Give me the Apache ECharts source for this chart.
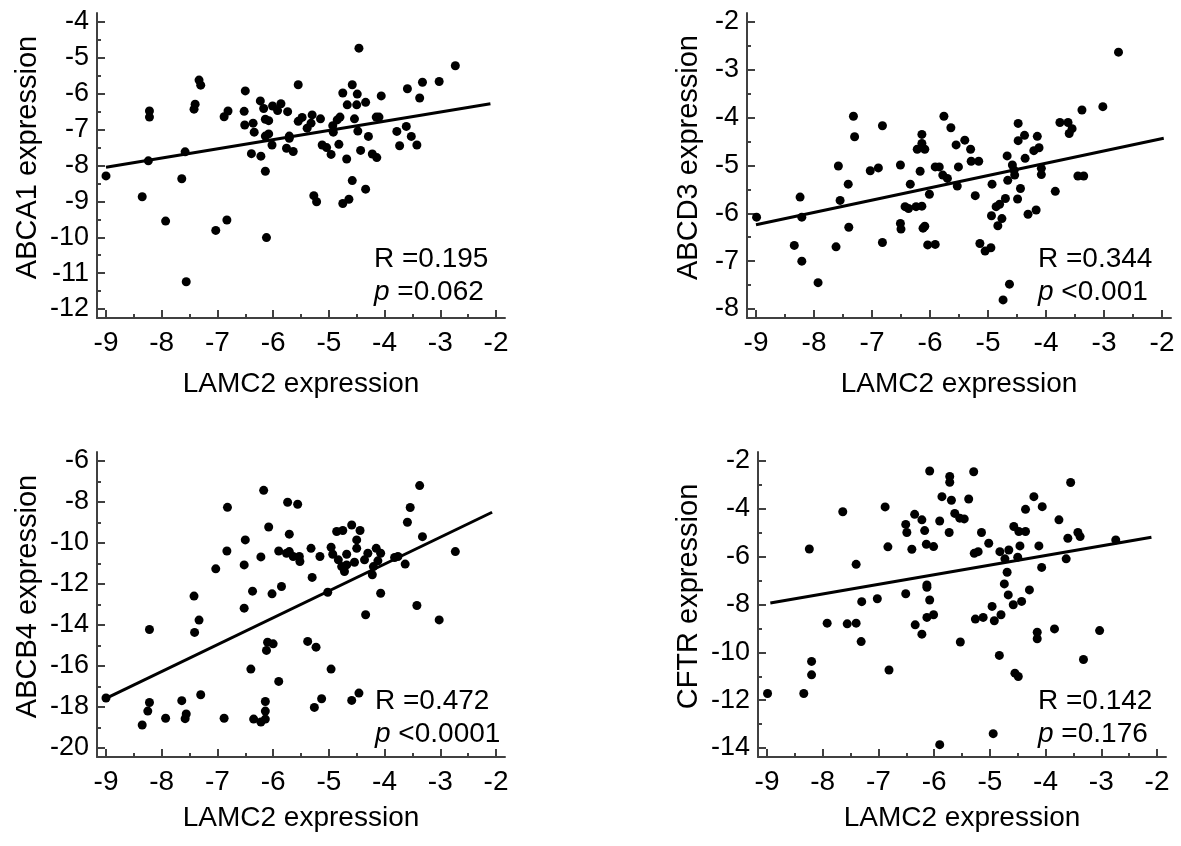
<!DOCTYPE html>
<html><head><meta charset="utf-8">
<script src="https://cdn.jsdelivr.net/npm/echarts@6/dist/echarts.min.js"></script>
<style>html,body{margin:0;padding:0;background:#fff}#c{width:1181px;height:846px}</style>
</head><body><div id="c"></div>
<script>
// ---------- data ----------
const xTicks = [-9, -8, -7, -6, -5, -4, -3, -2];
const xName = 'LAMC2 expression';

const abca1Ticks = [-12, -11, -10, -9, -8, -7, -6, -5, -4];
const abcd3Ticks = [-8, -7, -6, -5, -4, -3, -2];
const abcb4Ticks = [-20, -18, -16, -14, -12, -10, -8, -6];
const cftrTicks = [-14, -12, -10, -8, -6, -4, -2];

const yNames = ['ABCA1 expression', 'ABCD3 expression', 'ABCB4 expression', 'CFTR expression'];
const rValues = ['0.195', '0.344', '0.472', '0.142'];
const pValues = ['=0.062', '<0.001', '<0.0001', '=0.176'];

const abca1Points = [
[-9.00,-8.29],[-8.22,-6.48],[-8.22,-6.65],[-8.24,-7.87],[-8.35,-8.87],[-7.93,-9.55],[-7.56,-11.24],[-7.64,-8.37],
[-7.58,-7.62],[-7.33,-5.62],[-7.30,-5.76],[-7.40,-6.29],[-7.42,-6.43],[-7.03,-9.81],[-6.83,-9.52],[-6.88,-6.64],
[-6.81,-6.48],[-6.50,-5.92],[-6.52,-6.49],[-6.51,-6.87],[-6.36,-6.82],[-6.34,-7.07],[-6.39,-7.67],[-6.22,-7.74],
[-6.14,-8.16],[-6.12,-10.01],[-6.23,-6.20],[-6.17,-6.41],[-6.14,-6.71],[-6.08,-6.75],[-6.14,-7.18],[-6.08,-7.12],
[-6.02,-7.43],[-6.01,-6.34],[-5.92,-6.47],[-5.86,-6.28],[-5.74,-6.50],[-5.71,-7.18],[-5.71,-7.24],[-5.76,-7.52],
[-5.64,-7.61],[-5.55,-5.75],[-5.55,-6.77],
[-4.46,-4.73],[-2.73,-5.22],[-3.02,-5.66],[-3.32,-5.68],[-3.59,-5.86],[-3.37,-6.12],[-4.06,-6.06],[-4.58,-5.75],
[-4.75,-5.98],[-4.49,-6.01],[-4.67,-6.31],[-4.50,-6.31],[-4.34,-6.24],[-4.15,-6.65],[-4.10,-6.65],[-4.54,-6.70],
[-4.80,-6.65],[-4.48,-7.04],[-4.29,-7.19],[-4.43,-7.58],[-4.22,-7.68],[-4.14,-7.78],[-4.68,-7.82],[-4.82,-7.41],
[-4.96,-7.69],[-5.12,-7.43],[-5.04,-7.50],[-4.92,-7.07],[-4.93,-6.89],[-4.85,-6.73],[-5.15,-6.70],[-5.30,-6.59],
[-5.32,-6.82],[-5.39,-6.96],[-5.48,-6.66],[-3.78,-7.05],[-3.61,-6.91],[-3.52,-7.19],[-3.73,-7.45],[-3.42,-7.43],
[-4.58,-8.42],[-4.34,-8.66],[-5.27,-8.84],[-5.22,-9.01],[-4.75,-9.06],[-4.64,-8.94]
];
const abca1Fit = [[-9, -8.05], [-2.1, -6.28]];

const abcd3Points = [
[-8.99,-6.08],[-8.24,-5.66],[-8.21,-6.08],[-8.34,-6.67],[-8.21,-7.00],[-7.93,-7.45],[-7.58,-5.01],[-7.55,-5.73],
[-7.41,-5.39],[-7.40,-6.29],[-7.62,-6.70],[-7.32,-3.97],[-7.30,-4.40],[-7.03,-5.11],[-6.89,-5.05],[-6.82,-4.17],
[-6.82,-6.61],[-6.51,-4.99],[-6.34,-5.39],[-6.43,-5.86],[-6.37,-5.90],[-6.24,-5.86],[-6.14,-5.85],[-6.51,-6.21],
[-6.50,-6.33],[-6.12,-6.31],[-6.09,-6.27],[-6.14,-4.35],[-6.14,-4.54],[-6.22,-4.66],[-6.09,-4.66],[-6.17,-5.12],
[-6.01,-5.60],[-6.04,-6.66],[-5.91,-6.65],[-5.91,-5.03],[-5.84,-5.03],[-5.76,-3.97],[-5.78,-5.20],
[-2.75,-2.63],[-3.02,-3.77],[-3.38,-3.84],[-3.76,-4.10],[-3.62,-4.10],[-3.55,-4.23],[-3.60,-4.33],[-4.48,-4.12],
[-4.37,-4.37],[-4.15,-4.39],[-4.48,-4.48],[-4.12,-4.63],[-4.21,-4.69],[-4.36,-4.85],[-4.67,-4.80],[-4.58,-4.99],
[-4.54,-5.20],[-4.66,-5.31],[-4.55,-5.10],[-4.08,-5.06],[-4.08,-5.19],[-4.93,-5.39],[-4.44,-5.48],[-4.49,-5.70],
[-4.70,-5.69],[-4.80,-5.81],[-4.86,-5.86],[-4.94,-6.05],[-4.76,-6.11],[-4.83,-6.26],[-4.31,-6.02],[-4.17,-5.93],
[-3.84,-5.54],[-3.45,-5.22],[-3.35,-5.22],[-5.14,-6.63],[-5.05,-6.79],[-4.95,-6.72],[-4.63,-7.48],[-4.74,-7.81],
[-5.22,-5.63],[-5.53,-5.43],[-5.51,-5.03],[-5.29,-4.91],[-5.16,-4.91],[-5.55,-4.57],[-5.40,-4.47],[-5.30,-4.66],
[-5.64,-4.21],[-5.70,-5.27]
];
const abcd3Fit = [[-9, -6.24], [-1.97, -4.43]];

const abcb4Points = [
[-9.00,-17.56],[-8.22,-14.22],[-8.22,-17.78],[-8.25,-18.20],[-8.35,-18.88],[-7.93,-18.55],[-7.64,-17.69],[-7.56,-18.34],
[-7.58,-18.57],[-7.30,-17.40],[-7.42,-12.59],[-7.33,-13.76],[-7.41,-14.36],[-7.03,-11.26],[-6.83,-10.39],[-6.82,-8.26],
[-6.88,-18.55],[-6.50,-9.85],[-6.52,-11.07],[-6.52,-13.18],[-6.37,-12.35],[-6.40,-16.15],[-6.22,-10.68],[-6.17,-7.43],
[-6.08,-9.22],[-6.02,-12.48],[-5.85,-12.12],[-5.90,-10.39],[-5.90,-16.75],[-6.12,-15.24],[-6.10,-14.84],[-6.00,-14.92],
[-6.14,-17.73],[-6.14,-18.20],[-6.14,-18.59],[-6.22,-18.73],[-6.35,-18.59],[-5.74,-8.01],[-5.71,-9.57],[-5.76,-10.50],
[-5.71,-10.42],[-5.64,-10.66],[-5.56,-8.11],[-5.53,-10.66],[-5.52,-10.90],
[-5.32,-10.26],[-5.16,-10.66],[-5.30,-11.68],[-5.02,-12.40],[-5.38,-14.80],[-5.23,-15.08],[-4.96,-16.15],[-5.13,-17.60],
[-5.26,-18.02],[-4.59,-17.68],[-4.46,-17.32],[-4.96,-10.21],[-4.93,-10.55],[-4.86,-9.44],[-4.75,-9.39],[-4.59,-9.12],
[-4.44,-9.39],[-4.50,-9.85],[-4.50,-10.26],[-4.68,-10.55],[-4.83,-10.82],[-4.77,-11.15],[-4.72,-11.39],[-4.68,-11.07],
[-4.54,-10.94],[-4.36,-10.82],[-4.30,-10.50],[-4.15,-10.26],[-4.07,-10.50],[-4.12,-10.87],[-4.20,-11.15],[-4.22,-11.55],
[-4.34,-13.50],[-4.07,-12.45],[-3.82,-10.71],[-3.76,-10.66],[-3.63,-11.03],[-3.32,-9.69],[-3.59,-8.99],[-3.54,-8.27],
[-3.37,-7.20],[-2.73,-10.42],[-3.42,-13.05],[-3.02,-13.75]
];
const abcb4Fit = [[-9, -17.58], [-2.07, -8.5]];

const cftrPoints = [
[-8.99,-11.72],[-8.34,-11.72],[-8.24,-5.68],[-8.20,-10.38],[-8.20,-10.94],[-7.92,-8.78],[-7.64,-4.12],[-7.56,-8.81],
[-7.40,-8.78],[-7.40,-6.32],[-7.30,-7.88],[-7.31,-9.55],[-7.02,-7.76],[-6.88,-3.92],[-6.83,-5.59],[-6.81,-10.74],
[-6.51,-4.65],[-6.49,-4.99],[-6.51,-7.55],[-6.40,-5.69],[-6.35,-4.23],[-6.22,-4.46],[-6.17,-4.91],[-6.14,-5.48],
[-6.01,-5.58],[-6.08,-2.42],[-6.13,-7.18],[-6.13,-7.28],[-6.08,-7.81],[-6.13,-8.54],[-6.01,-8.43],[-6.34,-8.85],
[-6.22,-9.24],[-5.90,-13.86],[-5.90,-4.51],[-5.86,-3.49],
[-5.72,-2.65],[-5.72,-2.89],[-5.29,-2.45],[-5.69,-3.64],[-5.38,-3.59],[-5.63,-4.19],[-5.54,-4.39],[-5.46,-4.42],
[-5.73,-4.99],[-5.15,-4.99],[-5.02,-5.44],[-5.28,-5.86],[-5.21,-5.79],[-4.82,-5.79],[-4.66,-5.72],[-4.73,-6.09],
[-4.50,-6.02],[-4.46,-5.55],[-4.57,-4.74],[-4.48,-4.95],[-4.36,-4.95],[-4.36,-4.02],[-4.21,-3.49],[-4.06,-3.91],
[-4.12,-5.55],[-4.07,-6.45],[-3.76,-4.46],[-3.55,-2.90],[-3.60,-5.23],[-3.42,-4.99],[-3.38,-5.16],[-3.63,-6.09],
[-2.74,-5.30],[-4.69,-6.65],[-4.74,-7.14],[-4.67,-7.60],[-4.58,-8.01],[-4.43,-7.87],[-4.29,-7.39],[-4.96,-8.08],
[-4.80,-8.43],[-4.92,-8.68],[-5.12,-8.54],[-5.26,-8.61],[-5.53,-9.57],[-4.83,-10.13],[-4.55,-10.87],[-4.49,-11.01],
[-4.15,-9.43],[-4.15,-9.16],[-3.84,-9.02],[-3.03,-9.09],[-3.32,-10.30],[-4.94,-13.40]
];
const cftrFit = [[-8.94, -7.94], [-2.1, -5.19]];

// ---------- layout / style ----------
const FONT = '"Liberation Sans", Arial, sans-serif';
const FS = 27;
const AXC = '#404040';
const PAD = 9;
const layouts = [
  {left: 97,  top: 13,  width: 408, height: 305, yGap: 55, xGap: 52, statL: 374,  statT: 243},
  {left: 747, top: 13,  width: 424, height: 305, yGap: 44, xGap: 52, statL: 1038, statT: 243},
  {left: 97,  top: 452, width: 408, height: 305, yGap: 55, xGap: 47, statL: 375,  statT: 685},
  {left: 758, top: 452, width: 408, height: 305, yGap: 55, xGap: 47, statL: 1038, statT: 685}
];
const panelPoints = [abca1Points, abcd3Points, abcb4Points, cftrPoints];
const panelFits = [abca1Fit, abcd3Fit, abcb4Fit, cftrFit];
const panelYTicks = [abca1Ticks, abcd3Ticks, abcb4Ticks, cftrTicks];

function padRange(ticks, lenPx) {
  const lo = Math.min(...ticks), hi = Math.max(...ticks);
  const upp = (hi - lo) / (lenPx - 2 * PAD);
  return [lo - PAD * upp, hi + PAD * upp];
}
function mids(ticks) {
  const s = ticks.slice().sort((a, b) => a - b);
  const out = [];
  for (let i = 0; i < s.length - 1; i++) out.push((s[i] + s[i + 1]) / 2);
  return out;
}

const grid = [], xAxis = [], yAxis = [], series = [], title = [];
layouts.forEach((L, i) => {
  grid.push({left: L.left, top: L.top, width: L.width, height: L.height, containLabel: false});
  const xr = padRange(xTicks, L.width);
  const yt = panelYTicks[i];
  const yr = padRange(yt, L.height);
  const lineStyle = {color: AXC, width: 2};
  xAxis.push({
    type: 'value', gridIndex: i, position: 'bottom', min: xr[0], max: xr[1],
    axisLine: {show: true, lineStyle},
    axisTick: {show: true, inside: true, length: 8, customValues: xTicks, lineStyle},
    axisLabel: {show: true, customValues: xTicks, fontSize: 28, fontFamily: FONT, color: '#000', margin: 11},
    splitLine: {show: false},
    name: xName, nameLocation: 'middle', nameGap: L.xGap,
    nameTextStyle: {fontSize: 28, fontFamily: FONT, color: '#000'}
  });
  xAxis.push({
    type: 'value', gridIndex: i, position: 'bottom', min: xr[0], max: xr[1],
    axisLine: {show: false},
    axisTick: {show: true, inside: true, length: 4, customValues: mids(xTicks), lineStyle},
    axisLabel: {show: false}, splitLine: {show: false}
  });
  yAxis.push({
    type: 'value', gridIndex: i, position: 'left', min: yr[0], max: yr[1],
    axisLine: {show: true, lineStyle},
    axisTick: {show: true, inside: true, length: 8, customValues: yt, lineStyle},
    axisLabel: {show: true, customValues: yt, fontSize: FS, fontFamily: FONT, color: '#000', margin: 8},
    splitLine: {show: false},
    name: yNames[i], nameLocation: 'middle', nameGap: L.yGap,
    nameTextStyle: {fontSize: 29, fontFamily: FONT, color: '#000', padding: [0, 0, 0, 16]}
  });
  yAxis.push({
    type: 'value', gridIndex: i, position: 'left', min: yr[0], max: yr[1],
    axisLine: {show: false},
    axisTick: {show: true, inside: true, length: 4, customValues: mids(yt), lineStyle},
    axisLabel: {show: false}, splitLine: {show: false}
  });
  series.push({
    type: 'scatter', xAxisIndex: 2 * i, yAxisIndex: 2 * i, data: panelPoints[i],
    symbolSize: 9, itemStyle: {color: '#000', opacity: 1}, silent: true
  });
  series.push({
    type: 'line', xAxisIndex: 2 * i, yAxisIndex: 2 * i, data: panelFits[i],
    symbol: 'none', lineStyle: {color: '#000', width: 3}, silent: true, z: 3
  });
  title.push({
    left: L.statL, top: L.statT, padding: 0,
    text: '{n|R =' + rValues[i] + '}\n{i|p}{n| ' + pValues[i] + '}',
    textStyle: {
      fontWeight: 'normal',
      rich: {
        n: {fontSize: 28, fontFamily: FONT, color: '#000', fontWeight: 'normal', lineHeight: 33},
        i: {fontSize: 28, fontFamily: FONT, color: '#000', fontWeight: 'normal', fontStyle: 'italic', lineHeight: 33}
      }
    }
  });
});

const chart = echarts.init(document.getElementById('c'), null, {renderer: 'canvas'});
chart.setOption({backgroundColor: '#fff', animation: false, grid, xAxis, yAxis, series, title});
</script>
</body></html>
